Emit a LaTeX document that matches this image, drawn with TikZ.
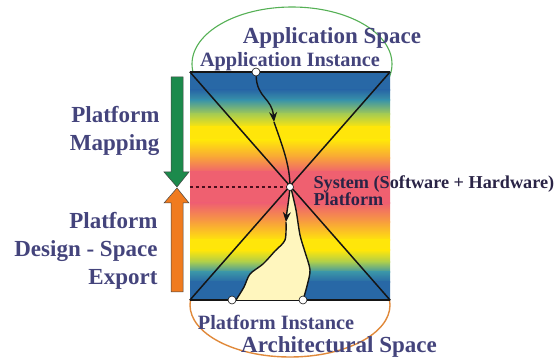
\documentclass[tikz,border=0pt]{standalone}
\usepackage{fontspec}
\setmainfont{Liberation Serif}
\usepackage{xcolor}
\usepackage{tikz}
\usetikzlibrary{arrows.meta,shapes.geometric}
\definecolor{LabelInk}{HTML}{44447C}
\definecolor{SysInk}{HTML}{2A2446}
\definecolor{LineInk}{HTML}{151515}
\definecolor{AppGreen}{HTML}{55B055}
\definecolor{ArchOrange}{HTML}{E0893A}
\definecolor{MapGreen}{HTML}{1C8A4C}
\definecolor{ExportOrange}{HTML}{F07B1F}
\definecolor{PlatCream}{HTML}{FFF6BE}
\definecolor{DotRed}{HTML}{4A0E1C}
\definecolor{GradBlue}{HTML}{2868A6}
\definecolor{GradTeal}{HTML}{3A94A8}
\definecolor{GradLime}{HTML}{A8CC50}
\definecolor{GradYellow}{HTML}{FFE60A}
\definecolor{GradOrange}{HTML}{F8A03C}
\definecolor{GradRed}{HTML}{EF6070}
\tikzset{
  figure/.style={x=1pt,y=-1pt,font=\bfseries,text=LabelInk,>={Stealth[length=10pt,width=8pt]}},
  space/.style={ellipse,line width=1.1pt,minimum width=200pt,inner sep=0pt},
  platbox/.style={minimum width=200pt,minimum height=228pt,inner sep=0pt},
  port/.style={circle,draw=LineInk,fill=white,line width=0.6pt,minimum size=8pt,inner sep=0pt},
  path/.style={draw=LineInk,line width=1.4pt},
  edge/.style={draw=LineInk,line width=1.5pt},
  dotline/.style={draw=DotRed,line width=2.6pt,dash pattern=on 3pt off 3pt},
  bigtext/.style={font=\bfseries\fontsize{23}{27}\selectfont},
  midtext/.style={font=\bfseries\fontsize{20.3}{24}\selectfont},
  sidetext/.style={font=\bfseries\fontsize{23}{28}\selectfont,align=right,anchor=east},
  systext/.style={font=\bfseries\fontsize{18.2}{17}\selectfont,text=SysInk,align=left,anchor=west},
  bigarrow/.style={draw=LineInk!80,line width=0.5pt},
}

\begin{document}
\begin{tikzpicture}[figure]
  \useasboundingbox (0,0) rectangle (557,363);

  \node[space,draw=AppGreen,minimum height=114pt] (appspace) at (292,64) {};
  \node[space,draw=ArchOrange,line width=1.4pt,minimum height=104pt] (archspace) at (290,305) {};

  \foreach \ya/\yb/\ca/\cb in {72/90/GradBlue/GradBlue,90/100/GradBlue/GradTeal,
      100/114/GradTeal/GradLime,114/127/GradLime/GradYellow,127/140/GradYellow/GradYellow,
      140/158/GradYellow/GradOrange,158/172/GradOrange/GradRed,172/203/GradRed/GradRed,
      203/222/GradRed/GradOrange,222/240/GradOrange/GradYellow,240/250/GradYellow/GradYellow,
      250/262/GradYellow/GradLime,262/272/GradLime/GradTeal,272/282/GradTeal/GradBlue,
      282/300/GradBlue/GradBlue}
    \shade[top color=\ca,bottom color=\cb] (190,\ya) rectangle (390,\yb+0.6);

  \node[platbox] (plat) at (290,186) {};
  \draw[edge] (plat.north west) -- (plat.north east);
  \draw[edge] (plat.south west) -- (plat.south east);
  \draw[edge] (plat.north west) -- (plat.south east);
  \draw[edge] (plat.north east) -- (plat.south west);

  \coordinate (sys) at (290,187);
  \coordinate (appmid) at (274,122);
  \coordinate (platmid) at (286,222);

  \fill[PlatCream] (sys) -- (platmid)
    -- plot[smooth] coordinates {(286,222) (285,240) (275,251) (263,264) (250,274) (244,287) (236,300)}
    -- plot[smooth] coordinates {(303,300) (307,286) (310,270) (305,252) (300,235) (296,210) (292,190)}
    -- cycle;
  \draw[path] plot[smooth] coordinates {(286,222) (285,240) (275,251) (263,264) (250,274) (244,287) (236,300)};
  \draw[path] plot[smooth] coordinates {(303,300) (307,286) (310,270) (305,252) (300,235) (296,210) (291,188)};

  \node[port] (appin) at (256,72) {};
  \node[port] (platinl) at (232,300) {};
  \node[port] (platinr) at (303,300) {};

  \draw[path,->] (appin) .. controls (257,98) and (272,98) .. (appmid);
  \draw[path] (appmid) .. controls (282,145) and (290,165) .. (sys);
  \draw[path,->] (sys) .. controls (289,200) and (287,210) .. (platmid);

  \draw[dotline] (plat.west |- sys) -- (sys);
  \node[port,minimum size=7pt] (sysport) at (sys) {};

  \draw[bigarrow,fill=MapGreen] (171,77) -- (183,77) -- (183,172) -- (189,172)
    -- (177,187) -- (164,172) -- (171,172) -- cycle;
  \draw[bigarrow,fill=ExportOrange] (171,292) -- (183,292) -- (183,203) -- (189,203)
    -- (177,188) -- (164,203) -- (171,203) -- cycle;

  \node[bigtext] (appspacelbl) at (332,38) {Application Space};
  \node[midtext] (appinstlbl) at (290,62) {Application Instance};
  \node[systext] (syslbl) at (310,191) {System (Software + Hardware)\\Platform};
  \node[sidetext] (mappinglbl) at (163,131) {Platform\\Mapping};
  \node[sidetext] (exportlbl) at (161,251) {Platform\\Design - Space\\Export};
  \node[midtext] (platinstlbl) at (276,322) {Platform Instance};
  \node[bigtext] (archspacelbl) at (339,347) {Architectural Space};
\end{tikzpicture}
\end{document}
